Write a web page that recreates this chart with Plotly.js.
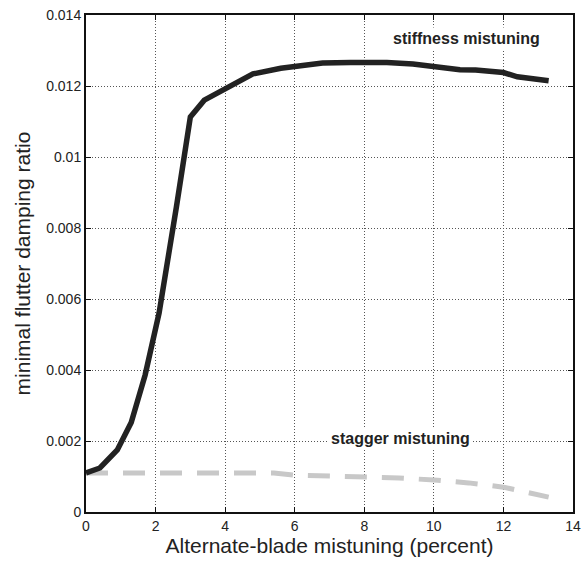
<!DOCTYPE html>
<html>
<head>
<meta charset="utf-8">
<script src="https://cdn.plot.ly/plotly-3.0.1.min.js"></script>
<style>html,body{margin:0;padding:0;background:#fff;}#chart{width:581px;height:566px;}</style>
</head>
<body>
<div id="chart"></div>
<script>
// Stiffness mistuning curve
const stiffX = [0, 0.4, 0.9, 1.3, 1.7, 2.1, 2.6, 3.0, 3.4, 4.0, 4.8, 5.6, 6.0, 6.8, 7.6, 8.65, 9.4, 10.0, 10.75, 11.2, 12.0, 12.4, 13.3];
const stiffY = [0.00110, 0.00124, 0.00175, 0.00252, 0.00386, 0.00560, 0.00860, 0.01113, 0.01160, 0.01192, 0.01234, 0.01250, 0.01255, 0.01265, 0.01266, 0.01266, 0.01262, 0.01255, 0.01246, 0.01245, 0.01238, 0.01226, 0.01215];
// Stagger mistuning curve
const stagX = [0, 2, 4, 5.4, 6.0, 7.0, 8.0, 9.0, 10.0, 11.0, 12.0, 13.3];
const stagY = [0.00110, 0.00110, 0.00110, 0.00110, 0.00104, 0.00102, 0.00099, 0.00096, 0.00090, 0.00082, 0.00070, 0.00042];
// Axis ticks
const xTicks = [0, 2, 4, 6, 8, 10, 12, 14];
const yTicks = [0, 0.002, 0.004, 0.006, 0.008, 0.01, 0.012, 0.014];
const yTickText = ["0", "0.002", "0.004", "0.006", "0.008", "0.01", "0.012", "0.014"];
// Labels
const labels = [
  {text: "stiffness mistuning", x: 10.93, y: 0.01335},
  {text: "stagger mistuning", x: 9.05, y: 0.00206}
];

const font = "Liberation Sans, Arial, Helvetica, sans-serif";
const traces = [
  {x: stagX, y: stagY, mode: "lines", line: {color: "#c8c8c8", width: 5, dash: "22px,15px"}, hoverinfo: "skip"},
  {x: stiffX, y: stiffY, mode: "lines", line: {color: "#222222", width: 5.5}, hoverinfo: "skip"}
];
const axisCommon = {
  showline: true, linecolor: "#111", linewidth: 2, mirror: "ticks",
  ticks: "inside", ticklen: 5, tickwidth: 1, tickcolor: "#111",
  showgrid: true, gridcolor: "#555", gridwidth: 1, griddash: "1px,2px",
  zeroline: false, tickfont: {family: font, size: 14, color: "#222"}
};
const layout = {
  width: 581, height: 566,
  margin: {l: 86, r: 8, t: 15, b: 54},
  paper_bgcolor: "#fff", plot_bgcolor: "#fff",
  showlegend: false,
  xaxis: Object.assign({}, axisCommon, {
    range: [0, 14], tickvals: xTicks, ticktext: xTicks.map(String),
    title: {text: "Alternate-blade mistuning (percent)", font: {family: font, size: 21, color: "#222"}, standoff: 6}
  }),
  yaxis: Object.assign({}, axisCommon, {
    range: [0, 0.014], tickvals: yTicks, ticktext: yTickText,
    title: {text: "minimal flutter damping ratio", font: {family: font, size: 21, color: "#222"}, standoff: 10}
  }),
  annotations: labels.map(l => ({
    x: l.x, y: l.y, xref: "x", yref: "y", text: "<b>" + l.text + "</b>",
    showarrow: false, bgcolor: "#fff", borderpad: 2,
    font: {family: font, size: 16, color: "#222"}
  }))
};
Plotly.newPlot("chart", traces, layout, {staticPlot: true, displayModeBar: false});
</script>
</body>
</html>
